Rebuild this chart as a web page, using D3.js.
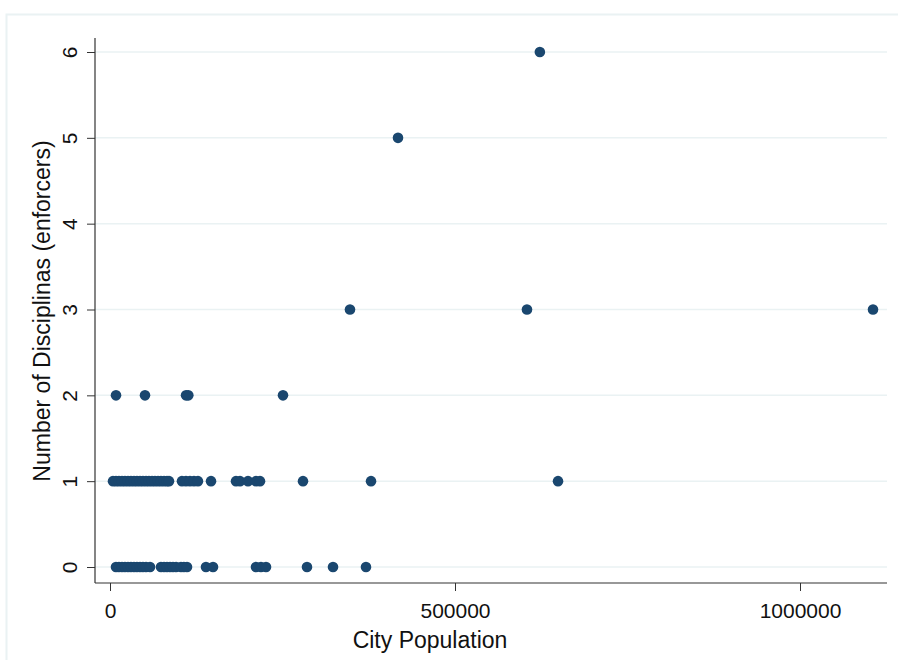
<!DOCTYPE html>
<html>
<head>
<meta charset="utf-8">
<script src="https://cdn.jsdelivr.net/npm/d3@7"></script>
<style>
  body { margin: 0; background: #fff; }
  text { font-family: "Liberation Sans", Arial, sans-serif; fill: #111; }
</style>
</head>
<body>
<svg id="chart" width="898" height="660"></svg>
<script>
// ---- data ----
const xTicks = [0, 500000, 1000000];
const yTicks = [0, 1, 2, 3, 4, 5, 6];

const pop0 = [8700, 13000, 17400, 21700, 26100, 30400, 34800, 39100, 43500, 47800,
  52200, 58000, 73900, 78300, 82600, 87000, 91300, 95700, 102900, 107200, 111600,
  139100, 149300, 211600, 218800, 226100, 285500, 323200, 371000];
const pop1 = [4350, 8700, 13000, 17400, 21700, 26100, 30400, 34800, 39100, 43500,
  47800, 52200, 56500, 60900, 65200, 69600, 73900, 78300, 82600, 85500,
  104300, 110100, 115900, 121700, 127500, 146400, 182600, 188400, 200000,
  211600, 217400, 279700, 378300, 649300];
const pop2 = [8700, 50700, 110200, 113500, 250700];
const pop3 = [347800, 604300, 1105800];
const pop5 = [417400];
const pop6 = [623000];

const points = [];
[[0, pop0], [1, pop1], [2, pop2], [3, pop3], [5, pop5], [6, pop6]].forEach(([v, arr]) => {
  arr.forEach(p => points.push({ pop: p, n: v }));
});

// ---- drawing ----
const svg = d3.select("#chart");
const x = d3.scaleLinear().domain([0, 1000000]).range([110, 800]);
const y = d3.scaleLinear().domain([0, 6]).range([567, 52]);

const plotLeft = 95, plotRight = 887, plotTop = 38, plotBottom = 583;
const FONT = "'Liberation Sans', Arial, sans-serif";

// outer faint frame
svg.append("rect").attr("x", 6.5).attr("y", 14.5).attr("width", 900).attr("height", 660)
  .attr("fill", "none").attr("stroke", "#eaf2f3").attr("stroke-width", 2);

// gridlines
svg.append("g").selectAll("line").data(yTicks).join("line")
  .attr("x1", plotLeft).attr("x2", plotRight)
  .attr("y1", d => y(d)).attr("y2", d => y(d))
  .attr("stroke", "#eaf2f3").attr("stroke-width", 1.5);

// y axis
const yAxis = d3.axisLeft(y).tickValues(yTicks).tickSize(8).tickPadding(0).tickFormat(d3.format("d"));
const gy = svg.append("g").attr("transform", `translate(${plotLeft},0)`).call(yAxis);
gy.select(".domain").remove();
gy.selectAll(".tick line").attr("stroke", "#333");
gy.selectAll(".tick text")
  .attr("x", 0).attr("dy", null)
  .attr("transform", "translate(-18,0) rotate(-90)")
  .attr("text-anchor", "middle").attr("y", 0)
  .style("font-size", "21px").attr("fill", "#111")
  .style("font-family", FONT);
svg.append("line").attr("x1", plotLeft).attr("x2", plotLeft)
  .attr("y1", plotTop).attr("y2", plotBottom).attr("stroke", "#333").attr("stroke-width", 1.2);

// x axis
const xAxis = d3.axisBottom(x).tickValues(xTicks).tickSize(8).tickPadding(12).tickFormat(d3.format("d"));
const gx = svg.append("g").attr("transform", `translate(0,${plotBottom})`).call(xAxis);
gx.select(".domain").remove();
gx.selectAll(".tick line").attr("stroke", "#333");
gx.selectAll(".tick text").style("font-size", "21px").attr("fill", "#111")
  .style("font-family", FONT);
svg.append("line").attr("x1", plotLeft).attr("x2", plotRight)
  .attr("y1", plotBottom).attr("y2", plotBottom).attr("stroke", "#333").attr("stroke-width", 1.2);

// points
svg.append("g").selectAll("circle").data(points).join("circle")
  .attr("cx", d => x(d.pop)).attr("cy", d => y(d.n)).attr("r", 5.3)
  .attr("fill", "#1a476f");

// axis titles
svg.append("text").attr("x", 430).attr("y", 648).attr("text-anchor", "middle")
  .style("font-size", "23px").text("City Population");
svg.append("text").attr("transform", "translate(50,311) rotate(-90)").attr("text-anchor", "middle")
  .style("font-size", "23px").text("Number of Disciplinas (enforcers)");
</script>
</body>
</html>
